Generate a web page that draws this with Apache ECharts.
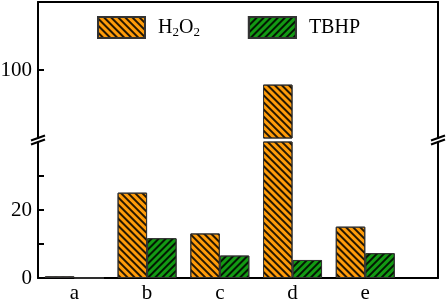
<!DOCTYPE html>
<html>
<head>
<meta charset="utf-8">
<script src="https://cdn.jsdelivr.net/npm/echarts@6/dist/echarts.min.js"></script>
<style>
html, body { margin: 0; padding: 0; background: #fff; }
#chart { width: 447px; height: 300px; }
</style>
</head>
<body>
<div id="chart"></div>
<script>
const chart = echarts.init(document.getElementById("chart"));

// data
const categories = ["a", "b", "c", "d", "e"];
const h2o2 = [0.5, 25.1, 13.1, 95.7, 15.1];
const tbhp = [0, 11.7, 6.6, 5.3, 7.3];
const lowerTicks = [0, 10, 20, 30];
const lowerLabels = [0, 20];
const upperLabels = [100];

const FONT = "Liberation Serif";
const LEFT = 38;
const RIGHT = 9;
const TOP = 2;
const PANEL = 136;
const GAP = 4;
const W = 447;

const ORANGE = "#ff9c0a";
const GREEN = "#139a13";

const pairs = arr => arr.map((v, i) => [i + 1, v]);

const decal = rot => ({
	symbol: "rect",
	symbolSize: 1,
	dashArrayX: [1, 0],
	dashArrayY: [1.4, 2.2],
	rotation: rot,
	color: "rgba(0,0,0,0.85)"
});

const barStyle = (color, rot) => ({
	color: color,
	borderColor: "#333",
	borderWidth: 1,
	decal: decal(rot)
});

const line = { show: true, onZero: false, lineStyle: { color: "#000", width: 2 } };

function xAxis(grid, pos, labels) {
	return {
		gridIndex: grid, type: "value", min: 0.5, max: 6, position: pos,
		axisLine: line, axisTick: { show: false }, splitLine: { show: false },
		axisLabel: labels ? {
			customValues: [1, 2, 3, 4, 5],
			formatter: v => categories[Math.round(v) - 1],
			fontFamily: FONT, fontSize: 21, color: "#000", margin: 5
		} : { show: false }
	};
}

function yAxis(grid, min, max, interval, pos, ticks, labels) {
	return {
		gridIndex: grid, type: "value", min: min, max: max, interval: interval, position: pos,
		axisLine: line, splitLine: { show: false },
		axisTick: ticks ? { inside: true, length: 6, customValues: ticks, lineStyle: { color: "#000", width: 2 } } : { show: false },
		axisLabel: labels ? { customValues: labels, fontFamily: FONT, fontSize: 21, color: "#000", margin: 6 } : { show: false }
	};
}

// break marks "//" on both side axes
const breakMarks = [];
const yTop = TOP + PANEL;
const yBot = yTop + GAP;
[LEFT, W - RIGHT].forEach(x => {
	[yTop, yBot].forEach(y => {
		breakMarks.push({
			type: "line",
			shape: { x1: x - 7, y1: y + 2.5, x2: x + 7, y2: y - 2.5 },
			style: { stroke: "#000", lineWidth: 2 }
		});
	});
});

const barCommon = { type: "bar", barWidth: 29.5, barGap: "0%", clip: true };

option = {
	animation: false,
	grid: [
		{ left: LEFT, right: RIGHT, top: TOP, height: PANEL, outerBoundsMode: "none" },
		{ left: LEFT, right: RIGHT, top: TOP + PANEL + GAP, height: PANEL, outerBoundsMode: "none" }
	],
	legend: {
		left: 97, top: 16, padding: 0,
		icon: "rect",
		itemWidth: 47, itemHeight: 21, itemGap: 48,
		selectedMode: false,
		data: ["H2O2", "TBHP"],
		formatter: name => name === "H2O2" ? "{n|H}{s|2}{n|O}{s|2}" : "{n|TBHP}",
		textStyle: {
			padding: [0, 0, 0, 8],
			rich: {
				n: { fontFamily: FONT, fontSize: 20, color: "#000", lineHeight: 24 },
				s: { fontFamily: FONT, fontSize: 13, color: "#000", lineHeight: 12, verticalAlign: "bottom" }
			}
		}
	},
	xAxis: [
		xAxis(0, "top", false),
		xAxis(1, "bottom", true)
	],
	yAxis: [
		yAxis(0, 80, 120, 20, "left", upperLabels, upperLabels),
		yAxis(0, 80, 120, 20, "right", null, null),
		yAxis(1, 0, 40, 10, "left", lowerTicks, lowerLabels),
		yAxis(1, 0, 40, 10, "right", null, null)
	],
	series: [
		Object.assign({ name: "H2O2", xAxisIndex: 0, yAxisIndex: 0, data: pairs(h2o2), itemStyle: barStyle(ORANGE, Math.PI / 4) }, barCommon),
		Object.assign({ name: "TBHP", xAxisIndex: 0, yAxisIndex: 0, data: pairs(tbhp), itemStyle: barStyle(GREEN, -Math.PI / 4) }, barCommon),
		Object.assign({ name: "H2O2", xAxisIndex: 1, yAxisIndex: 2, data: pairs(h2o2), itemStyle: barStyle(ORANGE, Math.PI / 4) }, barCommon),
		Object.assign({ name: "TBHP", xAxisIndex: 1, yAxisIndex: 2, data: pairs(tbhp), itemStyle: barStyle(GREEN, -Math.PI / 4) }, barCommon)
	],
	graphic: breakMarks
};

chart.setOption(option);
window.onresize = chart.resize;
</script>
</body>
</html>
